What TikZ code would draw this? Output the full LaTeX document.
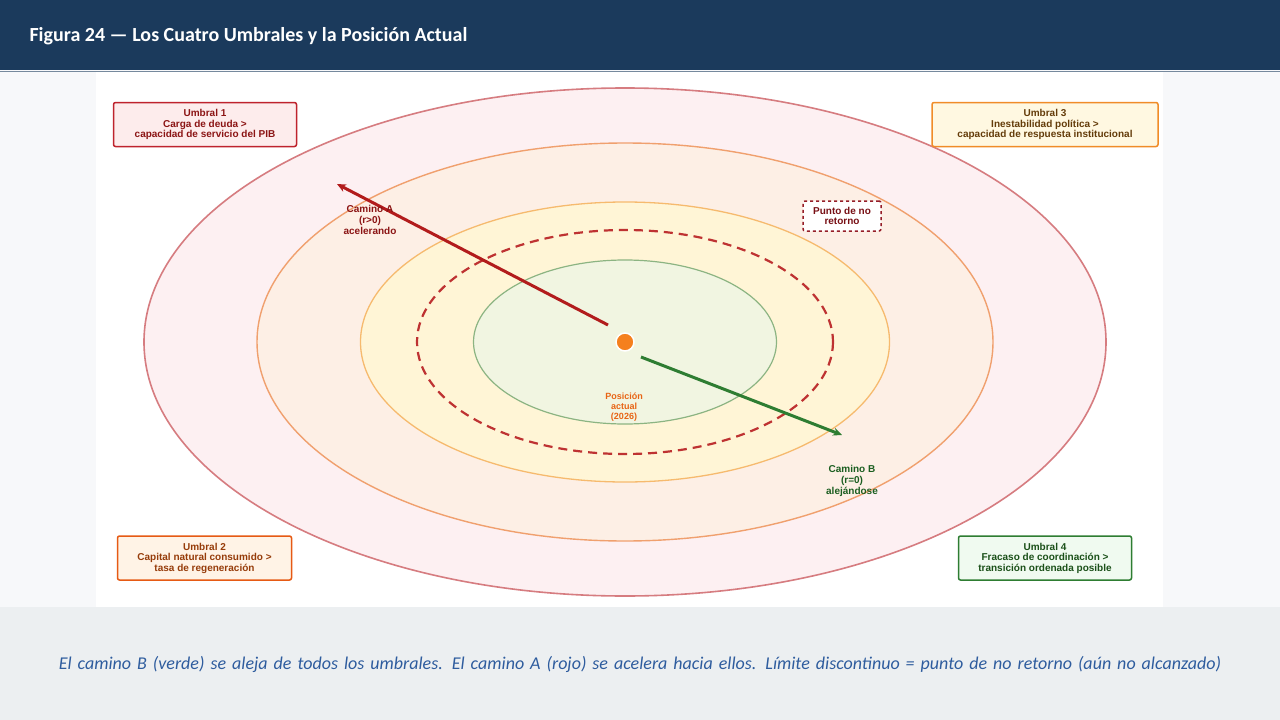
\documentclass[tikz,border=0pt]{standalone}
\usepackage{fontspec}
\setmainfont{Liberation Sans}
\newfontfamily\calfont{Carlito}
\usetikzlibrary{arrows.meta}
\definecolor{hdr}{HTML}{1B3A5C}
\definecolor{capc}{HTML}{2E5C9E}
\definecolor{sideg}{HTML}{F7F8FA}
\definecolor{botg}{HTML}{ECEFF1}
\definecolor{e1f}{HTML}{FDF0F2}\definecolor{e1d}{HTML}{D67C80}
\definecolor{e2f}{HTML}{FDEFE5}\definecolor{e2d}{HTML}{F0A06E}
\definecolor{e3f}{HTML}{FFF5D6}\definecolor{e3d}{HTML}{F6BA6E}
\definecolor{e4d}{HTML}{BE3232}
\definecolor{e5f}{HTML}{F1F5E1}\definecolor{e5d}{HTML}{8CB482}
\definecolor{posc}{HTML}{F5801E}
\definecolor{redA}{HTML}{B21C1C}\definecolor{grnB}{HTML}{2E7D32}
\definecolor{txA}{HTML}{8B1414}\definecolor{txB}{HTML}{1B5E20}
\definecolor{txP}{HTML}{E86414}
\definecolor{pnrd}{HTML}{961E28}\definecolor{pnrt}{HTML}{780F14}
\definecolor{u1d}{HTML}{BE232D}\definecolor{u1f}{HTML}{FDECEC}
\definecolor{u3d}{HTML}{F08C28}\definecolor{u3f}{HTML}{FFF8E1}\definecolor{u3t}{HTML}{643C0A}
\definecolor{u2d}{HTML}{E65A14}\definecolor{u2f}{HTML}{FFF3E6}\definecolor{u2t}{HTML}{963C0A}
\definecolor{u4f}{HTML}{F0FAF0}\definecolor{u4t}{HTML}{1B5019}
\begin{document}
\begin{tikzpicture}[x=1pt,y=-1pt,
 lbl/.style={font=\fontsize{10}{11}\selectfont\bfseries,align=center,inner sep=0pt},
 ubox/.style={draw,line width=1.5pt,rounded corners=2pt,font=\fontsize{10}{10.5}\selectfont\bfseries,align=center,inner sep=2pt}]
\useasboundingbox (0,0) rectangle (1280,720);
\fill[sideg] (0,0) rectangle (1280,720);
\fill[white] (96,72) rectangle (1163,607);
\fill[hdr] (0,0) rectangle (1280,70);
\draw[hdr!60,line width=1pt] (0,71.5) -- (1280,71.5);
\node[anchor=west,text=white,font=\calfont\fontsize{20}{22}\selectfont\bfseries] (title) at (26,36) {Figura 24 — Los Cuatro Umbrales y la Posición Actual};
\fill[botg] (0,607) rectangle (1280,720);
\node[text=capc,font=\calfont\itshape\fontsize{18}{24}\selectfont,align=center,text width=1240] (cap) at (640,664) {El camino B (verde) se aleja de todos los umbrales. El camino A (rojo) se acelera hacia ellos. Límite discontinuo = punto de no retorno (aún no alcanzado)};
\coordinate (c) at (625,342);
\draw[fill=e1f,draw=e1d,line width=1.6pt] (c) ellipse (481 and 254);
\draw[fill=e2f,draw=e2d,line width=1.4pt] (c) ellipse (368 and 199);
\draw[fill=e3f,draw=e3d,line width=1.3pt] (c) ellipse (264.5 and 140);
\draw[draw=e4d,line width=2.2pt,dash pattern=on 9pt off 6pt] (c) ellipse (208 and 112);
\draw[fill=e5f,draw=e5d,line width=1.2pt] (c) ellipse (151.5 and 82);
\node[circle,fill=posc,draw=white,line width=1.5pt,minimum size=18pt,inner sep=0] (pos) at (c) {};
\coordinate (a0) at (608,325); \coordinate (a1) at (337,184);
\coordinate (b0) at (641,357); \coordinate (b1) at (842,435);
\draw[redA,line width=3pt,-{Stealth[length=9pt,width=8pt]}] (a0) -- (a1);
\draw[grnB,line width=3pt,-{Stealth[length=9pt,width=8pt]}] (b0) -- (b1);
\node[lbl,text=txA] (la) at (370,220) {Camino A\\(r>0)\\acelerando};
\node[lbl,text=txB] (lb) at (852,481) {Camino B\\(r=0)\\alejándose};
\node[lbl,text=txP,font=\fontsize{9}{10}\selectfont\bfseries] (lp) at (624,407) {Posición\\actual\\(2026)};
\node[ubox,dashed,draw=pnrd,fill=white,text=pnrt,minimum width=78pt,minimum height=30pt] (pnr) at (842,216) {Punto de no\\retorno};
\node[ubox,draw=u1d,fill=u1f,text=txA,minimum width=183pt,minimum height=44pt] (u1) at (205,124.5) {Umbral 1\\Carga de deuda >\\capacidad de servicio del PIB};
\node[ubox,draw=u3d,fill=u3f,text=u3t,minimum width=226pt,minimum height=44pt] (u3) at (1045,124.5) {Umbral 3\\Inestabilidad política >\\capacidad de respuesta institucional};
\node[ubox,draw=u2d,fill=u2f,text=u2t,minimum width=174pt,minimum height=44pt] (u2) at (204.5,558) {Umbral 2\\Capital natural consumido >\\tasa de regeneración};
\node[ubox,draw=grnB,fill=u4f,text=u4t,minimum width=173pt,minimum height=44pt] (u4) at (1045,558) {Umbral 4\\Fracaso de coordinación >\\transición ordenada posible};
\end{tikzpicture}
\end{document}
